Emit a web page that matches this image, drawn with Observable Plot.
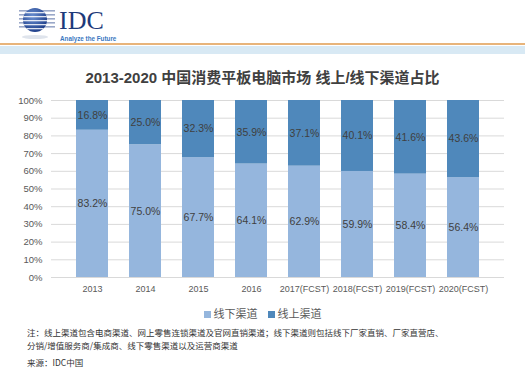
<!DOCTYPE html>
<html>
<head>
<meta charset="utf-8">
<script src="https://cdn.jsdelivr.net/npm/d3@7"></script>
<script src="https://cdn.jsdelivr.net/npm/@observablehq/plot@0.6"></script>
<style>
  body { margin: 0; background: #fff; width: 525px; height: 380px; overflow: hidden; position: relative;
         font-family: "Liberation Sans", "Noto Sans CJK SC", sans-serif; }
  #header { position: absolute; left: 0; top: 0; width: 525px; height: 56px; }
  #title { position: absolute; left: 0; top: 66px; width: 525px; text-align: center;
           font: bold 15px "Liberation Sans", "Noto Sans CJK SC", sans-serif; color: #404040; }
  #chart { position: absolute; left: 0; top: 90px; }
  #legend { position: absolute; left: 0; top: 305px; width: 525px; text-align: center;
            font: 11px "Noto Sans CJK SC", sans-serif; color: #595959; }
  #legend span.sw { display: inline-block; width: 7px; height: 7px; margin-right: 3px; vertical-align: 0px; }
  #legend span.item { margin: 0 5px; }
  .note { position: absolute; left: 27px; font: 8.5px "Noto Sans CJK SC", sans-serif; line-height: 10px; color: #333; white-space: nowrap; }
</style>
</head>
<body>
<div id="header">
  <svg width="525" height="56">
    <defs>
      <radialGradient id="g" cx="40%" cy="35%" r="70%">
        <stop offset="0%" stop-color="#6a8fd0"/>
        <stop offset="100%" stop-color="#1a3a86"/>
      </radialGradient>
      <clipPath id="c"><circle cx="35" cy="20" r="12"/></clipPath>
    </defs>
    <ellipse cx="35" cy="37" rx="13" ry="2" fill="#dfe4ec"/>
    <g>
      <rect x="19" y="10" width="36" height="1.6" fill="#9aa8c8"/>
      <rect x="19" y="14" width="36" height="1.6" fill="#9aa8c8"/>
      <rect x="19" y="18" width="36" height="1.6" fill="#9aa8c8"/>
      <rect x="19" y="22" width="36" height="1.6" fill="#9aa8c8"/>
      <rect x="19" y="26" width="36" height="1.6" fill="#9aa8c8"/>
    </g>
    <circle cx="35" cy="20" r="12" fill="url(#g)"/>
    <g clip-path="url(#c)" fill="#ffffff" opacity="0.85">
      <rect x="20" y="12" width="30" height="1.3"/>
      <rect x="20" y="16" width="30" height="1.3"/>
      <rect x="20" y="20" width="30" height="1.3"/>
      <rect x="20" y="24" width="30" height="1.3"/>
      <rect x="20" y="28" width="30" height="1.3"/>
    </g>
    <text x="59" y="29" font-family="Liberation Serif, DejaVu Serif, serif" font-size="26" fill="#1d3a7a">IDC</text>
    <text x="60" y="40.6" font-family="Liberation Sans, sans-serif" font-size="6.3" font-weight="bold" fill="#3b78bf">Analyze the Future</text>
    <rect x="0" y="43" width="525" height="2" fill="#e8b47a"/>
    <rect x="0" y="46" width="525" height="8" fill="#d8e9f4"/>
  </svg>
</div>
<div id="title">2013-2020 中国消费平板电脑市场 线上/线下渠道占比</div>
<div id="chart"></div>
<div id="legend"></div>
<div class="note" style="top:327px">注：线上渠道包含电商渠道、网上零售连锁渠道及官网直销渠道；线下渠道则包括线下厂家直销、厂家直营店、</div>
<div class="note" style="top:340px">分销/增值服务商/集成商、线下零售渠道以及运营商渠道</div>
<div class="note" style="top:357px">来源：IDC中国</div>
<script>
const years = ["2013", "2014", "2015", "2016", "2017(FCST)", "2018(FCST)", "2019(FCST)", "2020(FCST)"];
const series = ["线下渠道", "线上渠道"];
const offline = [83.2, 75.0, 67.7, 64.1, 62.9, 59.9, 58.4, 56.4];
const online = [16.8, 25.0, 32.3, 35.9, 37.1, 40.1, 41.6, 43.6];
const yTicks = [0, 10, 20, 30, 40, 50, 60, 70, 80, 90, 100];
const colors = ["#95b6dd", "#4f88bb"];

const data = [];
years.forEach((y, i) => {
  data.push({year: y, series: series[0], value: offline[i]});
  data.push({year: y, series: series[1], value: online[i]});
});

const chart = Plot.plot({
  width: 525,
  height: 210,
  marginTop: 10,
  marginBottom: 23,
  marginLeft: 51,
  marginRight: 21,
  style: {fontFamily: "Liberation Sans, sans-serif", fontSize: "9.5px", color: "#595959", background: "transparent"},
  x: {domain: years, padding: 0.4, label: null, tickSize: 0, tickPadding: 8},
  y: {domain: [0, 100], ticks: yTicks, tickFormat: d => d + "%", label: null, tickSize: 0, tickPadding: 9},
  color: {domain: series, range: colors},
  marks: [
    Plot.gridY(yTicks, {stroke: "#d9d9d9", strokeOpacity: 1}),
    Plot.barY(data, Plot.stackY({x: "year", y: "value", fill: "series", order: series})),
    Plot.axisX({tickSize: 0, tickPadding: 8, fontSize: 9, fill: "#595959"}),
    Plot.text(data, Plot.stackY({x: "year", y: "value", z: "series", order: series,
      text: d => d.value.toFixed(1) + "%", fill: "#404040", fontSize: 10.5}))
  ]
});
document.getElementById("chart").appendChild(chart);

const legend = document.getElementById("legend");
series.forEach((s, i) => {
  const item = document.createElement("span");
  item.className = "item";
  item.innerHTML = `<span class="sw" style="background:${colors[i]}"></span>${s}`;
  legend.appendChild(item);
});
</script>
</body>
</html>
